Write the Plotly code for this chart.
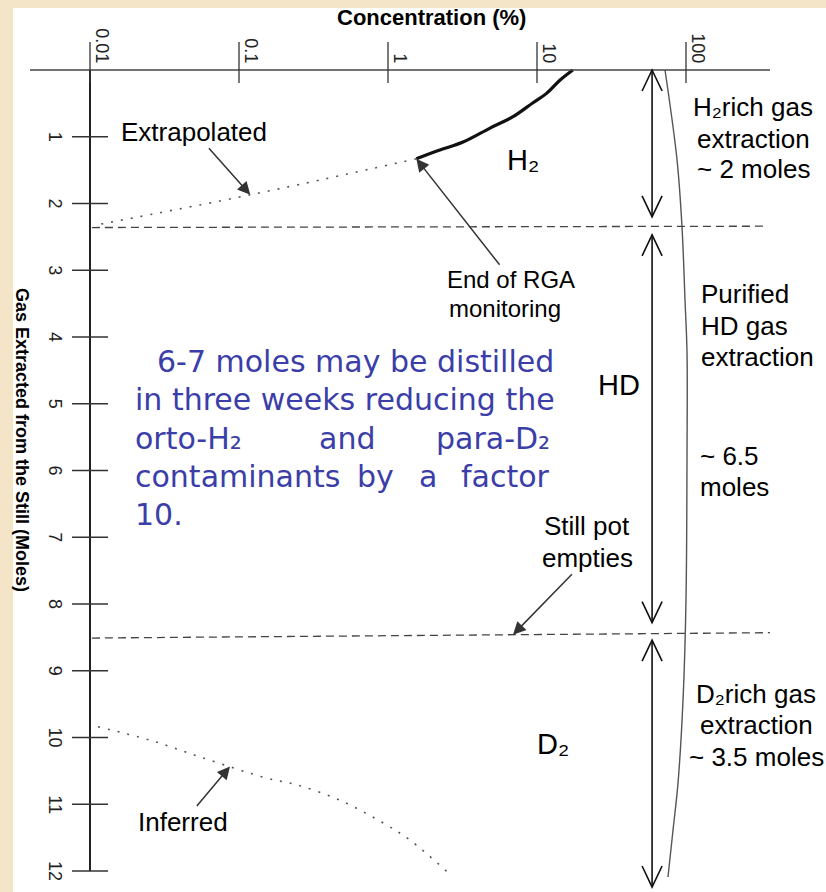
import numpy as np
import plotly.graph_objects as go

W, H = 826, 892

# ---------------- data ----------------
conc_ticks = [0.01, 0.1, 1, 10, 100]
conc_tick_text = ["0.01", "0.1", "1", "10", "100"]
mole_ticks = list(range(1, 13))
mole_tick_text = [str(k) for k in mole_ticks]

# H2 concentration measured by the RGA during the first extraction
h2_conc = [17.4, 14.3, 11.6, 9.4, 6.9, 4.84, 3.19, 2.23, 1.55]
h2_moles = [0.0, 0.15, 0.35, 0.49, 0.70, 0.87, 1.08, 1.20, 1.33]

# extrapolation of the H2 curve after the RGA monitoring ended
extrap_conc = [1.55, 0.119, 0.0105]
extrap_moles = [1.33, 1.87, 2.33]

# inferred concentration towards the end of the distillation
inferred_conc = [0.0113, 0.0253, 0.0547, 0.154, 0.245, 0.476, 0.912, 1.41, 2.49]
inferred_moles = [9.84, 10.04, 10.29, 10.61, 10.71, 10.94, 11.27, 11.54, 12.01]

# HD concentration
hd_conc = [72.3, 87.1, 94.0, 98.5, 101.6, 101.6, 100.0, 95.5, 88.4, 81.8, 75.7]
hd_moles = [0.0, 1.35, 2.35, 3.45, 4.24, 5.69, 7.94, 9.44, 10.68, 11.39, 12.09]

# fraction boundaries
cut1_conc = [0.0103, 340.0]
cut1_moles = [2.36, 2.34]
cut2_conc = [0.0103, 366.0]
cut2_moles = [8.51, 8.43]

# extraction phases (moles extracted), drawn as double arrows
phase_start = [0.0, 2.47, 8.54]
phase_end = [2.20, 8.28, 12.24]
phase_conc = 59.2

# ---------------- geometry ----------------
DEC_PX = 149.0    # pixels per decade of concentration
X0_PX = 90.0      # pixel column of 0.01 %
Y0_PX = 70.0      # pixel row of 0 moles
MOLE_PX = 66.75   # pixels per mole

x_range = [-2 - X0_PX / DEC_PX, -2 + (W - X0_PX) / DEC_PX]
y_range = [(H - Y0_PX) / MOLE_PX, -Y0_PX / MOLE_PX]


def px(x):
    return x / W


def py(y):
    return 1 - y / H


def joined(*parts):
    """Concatenate several polylines into one, separated by gaps."""
    out = []
    for i, p in enumerate(parts):
        if i:
            out.append(None)
        out.extend(p)
    return out


BLACK_FONT = "Liberation Sans, Arial, sans-serif"
BLUE_FONT = "DejaVu Sans, sans-serif"
BLUE = "#3B3EA8"
PAPER = "#F4E5C9"

fig = go.Figure()

# HD concentration curve
fig.add_trace(go.Scatter(x=hd_conc, y=hd_moles, mode="lines",
                         line=dict(color="#555555", width=1.4, shape="spline"),
                         hoverinfo="skip"))
# measured H2
fig.add_trace(go.Scatter(x=h2_conc, y=h2_moles, mode="lines",
                         line=dict(color="#111111", width=3.2, shape="spline"),
                         hoverinfo="skip"))
# extrapolated and inferred parts (dotted)
fig.add_trace(go.Scatter(x=joined(extrap_conc, inferred_conc),
                         y=joined(extrap_moles, inferred_moles), mode="lines",
                         line=dict(color="#555555", width=1.6, dash="2px,8px", shape="spline"),
                         connectgaps=False, hoverinfo="skip"))
# fraction boundaries (dashed)
fig.add_trace(go.Scatter(x=joined(cut1_conc, cut2_conc), y=joined(cut1_moles, cut2_moles),
                         mode="lines", line=dict(color="#444444", width=1.3, dash="8px,5px"),
                         connectgaps=False, hoverinfo="skip"))
# phase arrows (shafts)
fig.add_trace(go.Scatter(x=joined(*[[phase_conc, phase_conc] for _ in phase_start]),
                         y=joined(*[[s, e] for s, e in zip(phase_start, phase_end)]),
                         mode="lines", line=dict(color="#111111", width=1.6),
                         connectgaps=False, hoverinfo="skip"))

shapes = []
# white sheet behind the chart
shapes.append(dict(type="rect", xref="paper", yref="paper", x0=px(13), x1=1, y0=0, y1=py(8),
                   fillcolor="white", line=dict(width=0), layer="below"))
# axis lines
shapes.append(dict(type="line", xref="paper", yref="y", x0=px(30), x1=px(770), y0=0, y1=0,
                   line=dict(color="#444444", width=1.5)))
shapes.append(dict(type="line", xref="x", yref="y", x0=0.01, x1=0.01, y0=0, y1=12,
                   line=dict(color="#222222", width=2)))
# tick marks crossing the axes
for v in conc_ticks:
    shapes.append(dict(type="line", xref="x", yref="y", x0=v, x1=v,
                       ysizemode="pixel", yanchor=0, y0=-13, y1=28,
                       line=dict(color="#333333", width=1.3)))
for k in mole_ticks:
    shapes.append(dict(type="line", xref="paper", yref="y", x0=px(X0_PX - 18), x1=px(X0_PX + 18),
                       y0=k, y1=k, line=dict(color="#333333", width=1.3)))
# open V heads of the phase arrows
for s, e in zip(phase_start, phase_end):
    shapes.append(dict(type="path", xref="x", yref="y", xsizemode="pixel", ysizemode="pixel",
                       xanchor=phase_conc, yanchor=s, path="M -10,-21 L 0,0 L 10,-21",
                       line=dict(color="#111111", width=1.6)))
    shapes.append(dict(type="path", xref="x", yref="y", xsizemode="pixel", ysizemode="pixel",
                       xanchor=phase_conc, yanchor=e, path="M -10,21 L 0,0 L 10,21",
                       line=dict(color="#111111", width=1.6)))

annotations = []


def note(text, x, y, size=26, xanchor="left", color="black", family=BLACK_FONT, **kw):
    annotations.append(dict(text=text, x=px(x), y=py(y), xref="paper", yref="paper",
                            xanchor=xanchor, yanchor="middle", showarrow=False,
                            font=dict(family=family, size=size, color=color), **kw))


def pointed(text, xc, ym, ax, ay, size=26):
    # label placed at a pixel offset from the point it refers to, with an arrow to it
    annotations.append(dict(text=text, x=np.log10(xc), y=ym, xref="x", yref="y",
                            ax=ax, ay=ay, xanchor="center", yanchor="middle",
                            showarrow=True, arrowhead=2, arrowsize=1.7,
                            arrowwidth=1.5, arrowcolor="#333333", standoff=0,
                            font=dict(family=BLACK_FONT, size=size, color="black")))


# mole tick labels, rotated, placed on the y scale
for k, t in zip(mole_ticks, mole_tick_text):
    annotations.append(dict(text=t, x=px(55), y=k, xref="paper", yref="y",
                            xanchor="center", yanchor="middle", showarrow=False,
                            textangle=90,
                            font=dict(family=BLACK_FONT, size=18, color="#222222")))

# axis titles
note("<b>Concentration (%)</b>", 431, 18, size=22, xanchor="center")
note("<b>Gas Extracted from the Still (Moles)</b>", 22, 440, size=18, xanchor="center",
     textangle=90)

# curve labels with pointers
pointed("Extrapolated", extrap_conc[1], extrap_moles[1], -56, -63)
pointed("End of RGA", h2_conc[-1], h2_moles[-1], 95, 121, size=24)
note("monitoring", 447, 308, size=24)
still_c = 6.9
pointed("empties", still_c,
        float(np.interp(np.log10(still_c), np.log10(cut2_conc), cut2_moles)), 75, -77)
note("Still pot", 542, 526)
inf_c = 0.087
pointed("Inferred", inf_c,
        float(np.interp(np.log10(inf_c), np.log10(inferred_conc), inferred_moles)), -47, 56)

# region labels
note("H₂", 505, 160, size=29)
note("HD", 596, 385, size=29)
note("D₂", 535, 744, size=29)

# phase descriptions
LINE_BOX = 29
note("H₂rich gas", 753, 107, xanchor="center", height=LINE_BOX)
note("extraction", 753, 139, xanchor="center", height=LINE_BOX)
note("~ 2 moles", 753, 169, xanchor="center", height=LINE_BOX)
note("Purified", 699, 294, height=LINE_BOX)
note("HD gas", 699, 325, height=LINE_BOX)
note("extraction", 699, 356, height=LINE_BOX)
note("~ 6.5", 698, 455, height=LINE_BOX)
note("moles", 698, 487, height=LINE_BOX)
note("D₂rich gas", 756, 693, xanchor="center", height=LINE_BOX)
note("extraction", 756, 724, xanchor="center", height=LINE_BOX)
note("~ 3.5 moles", 756, 756, xanchor="center", height=LINE_BOX)

# comment block
blue = dict(size=30, color=BLUE, family=BLUE_FONT)
note("6-7 moles may be distilled", 155, 362, **blue)
note("in three weeks reducing the", 133, 400, **blue)
note("orto-H₂", 133, 438, **blue)
note("and", 317, 438, **blue)
note("para-D₂", 552, 438, xanchor="right", **blue)
note("contaminants", 133, 476, **blue)
note("by", 355, 476, **blue)
note("a", 417, 476, **blue)
note("factor", 552, 476, xanchor="right", **blue)
note("10.", 133, 514, **blue)

fig.update_layout(
    width=W, height=H,
    margin=dict(l=0, r=0, t=0, b=0),
    paper_bgcolor=PAPER,
    plot_bgcolor="rgba(0,0,0,0)",
    showlegend=False,
    shapes=shapes,
    annotations=annotations,
    xaxis=dict(type="log", range=x_range, domain=[0, 1], anchor="free", position=py(Y0_PX),
               side="top", showline=False, showgrid=False, zeroline=False, ticks="",
               tickmode="array", tickvals=conc_ticks, ticktext=conc_tick_text, tickangle=90,
               tickfont=dict(family=BLACK_FONT, size=18, color="#222222"),
               ticklabelstandoff=4, ticklabelshift=12, fixedrange=True),
    yaxis=dict(range=y_range, domain=[0, 1], anchor="free", position=px(X0_PX),
               showline=False, showgrid=False, zeroline=False, ticks="",
               tickmode="array", tickvals=mole_ticks, showticklabels=False,
               fixedrange=True),
)

fig.write_html("out.html", config={"displayModeBar": False})
